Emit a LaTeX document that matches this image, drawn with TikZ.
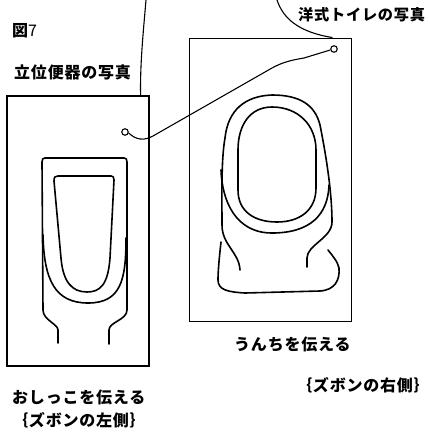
\documentclass[tikz,border=0pt]{standalone}
\usepackage{fontspec}
\usepackage{tikz}
\usetikzlibrary{positioning}
\newfontfamily\jp{Noto Sans CJK JP}[LetterSpace=5]

\begin{document}
\begin{tikzpicture}[x=1pt, y=-1pt,
    photo/.style={draw, line width=1.2pt, inner sep=0pt},
    hole/.style={circle, draw, line width=1.1pt, minimum size=6.5pt, inner sep=0pt},
    lead/.style={line width=1.1pt},
    ware/.style={line width=1.6pt, line join=round, line cap=round},
    lbl/.style={inner sep=0pt, anchor=west, font=\jp\bfseries\fontsize{16}{16}\selectfont}]
    \useasboundingbox (0,0) rectangle (430,444);

    \node[photo, minimum width=142pt, minimum height=270pt] (urinal) at (78,231) {};
    \node[photo, line width=0.9pt, minimum width=162pt, minimum height=283pt] (toilet) at (270,179.5) {};
    \node[hole] (urinalpt) at (125,132) {};
    \node[hole] (toiletpt) at (334,49) {};

    \node[lbl] (fig) at (12,31) {図\mdseries 7};
    \node[lbl] (urinalcap) at (14,72) {立位便器の写真};
    \node[lbl, font=\jp\bfseries\fontsize{15.2}{16}\selectfont] (toiletcap) at (298,15) {洋式トイレの写真};
    \node[lbl] (pee) at (12,397) {おしっこを伝える};
    \node[lbl, below=7pt of pee.south west, anchor=north west] (peeside) {｛ズボンの左側｝};
    \node[lbl] (poo) at (234,344) {うんちを伝える};
    \node[lbl] (pooside) at (296,385) {｛ズボンの右側｝};

    \coordinate (tailA) at (146,0);
    \coordinate (tailB) at (277,0);
    \path[draw, lead]
    (tailA) .. controls (143,35) and (140,65) .. ([xshift=-9pt]urinal.north east)
    (tailB) .. controls (283,18) and (298,32) .. ([xshift=-19pt]toilet.north east)
    (urinalpt.-15) .. controls (136,140) and (144,141) .. (153,136)
        -- (272,68) .. controls (283,62) and (292,60) .. (304,58)
        -- (toiletpt.195);

    % urinal
    \draw[ware] (58,343) -- (58,330) .. controls (58,324) and (43,320) .. (43,310)
        -- (42,162) .. controls (42,159) and (43,158) .. (45,158) -- (124,158)
        .. controls (126,158) and (127,159) .. (127,162) -- (127,310)
        .. controls (127,320) and (109,322) .. (109,330) -- (109,344);
    \draw[ware] (43,235) .. controls (44,280) and (55,303) .. (88,303)
        .. controls (121,303) and (126,280) .. (126,238);
    \draw[ware] (54,181) .. controls (54,177) and (55,176) .. (58,176) -- (111,176)
        .. controls (113,176) and (114,177) .. (114,180) -- (110,258)
        .. controls (108,285) and (100,292) .. (87,292)
        .. controls (72,292) and (63,282) .. (61,258) -- cycle;

    % western toilet
    \draw[ware] (240,270) .. controls (239,252) and (222,245) .. (222,225)
        .. controls (222,200) and (221,160) .. (225,138)
        .. controls (228,110) and (245,96) .. (272,95)
        .. controls (300,95) and (315,105) .. (320,125)
        .. controls (325,150) and (332,190) .. (332,222)
        .. controls (332,238) and (307,245) .. (307,258) -- (307,267);
    \draw[ware] (221,170) .. controls (222,200) and (235,233) .. (272,233)
        .. controls (310,233) and (328,215) .. (329,185);
    \draw[ware] (272,107) .. controls (250,107) and (238,125) .. (238,150) -- (238,190)
        .. controls (238,212) and (255,222) .. (277,222)
        .. controls (300,222) and (316,210) .. (316,188) -- (316,150)
        .. controls (316,125) and (298,107) .. (272,107) -- cycle;
    \draw[ware] (221,242) .. controls (219,260) and (218,272) .. (218,280)
        .. controls (218,290) and (228,292) .. (245,293) -- (320,291)
        .. controls (335,290) and (340,280) .. (339,268)
        .. controls (338,262) and (332,255) .. (328,250);
\end{tikzpicture}
\end{document}
